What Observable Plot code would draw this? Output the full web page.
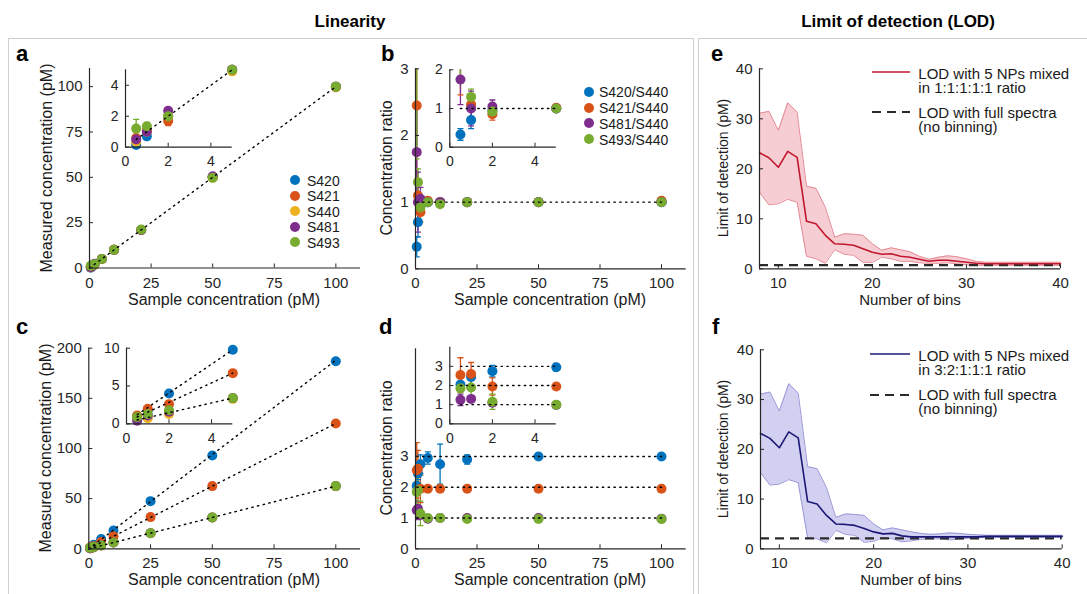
<!DOCTYPE html>
<html><head><meta charset="utf-8">
<script src="https://cdn.jsdelivr.net/npm/d3@7"></script>
<script src="https://cdn.jsdelivr.net/npm/@observablehq/plot@0.6"></script>
<style>
body{margin:0;background:#fff;overflow:hidden;font-family:"Liberation Sans",Arial,sans-serif;color:#222;}
#root{position:relative;width:1087px;height:594px;overflow:hidden;background:#fff;}
.t{position:absolute;white-space:pre;line-height:1;}
.box{position:absolute;border:1px solid #cfcfcf;}
.dot{position:absolute;width:10px;height:10px;border-radius:50%;}
</style></head><body><div id="root"></div>
<script>
// ---------------- DATA ----------------
const seriesA = ["S420", "S421", "S440", "S481", "S493"];
const colorsA = ["#0072BD", "#D95319", "#EDB120", "#7E2F8E", "#77AC30"];
const seriesB = ["S420/S440", "S421/S440", "S481/S440", "S493/S440"];
const colorsB = ["#0072BD", "#D95319", "#7E2F8E", "#77AC30"];

// panel a: measured vs sample concentration (1:1:1:1:1)
const concA = [0.5, 1, 2, 5, 10, 21, 50, 100];
const a_S420 = [0.15, 0.7, 2.0, 5.0, 10.0, 21.0, 50.0, 100.0];
const a_S421 = [0.6, 1.1, 1.7, 5.0, 10.0, 21.0, 50.0, 100.0];
const a_S440 = [0.35, 1.0, 2.0, 4.9, 10.0, 21.0, 49.7, 99.6];
const a_S481 = [0.5, 1.0, 2.35, 5.0, 10.0, 21.0, 50.6, 100.0];
const a_S493 = [1.2, 1.35, 2.0, 5.0, 10.0, 21.2, 49.8, 100.0];
const aErr_S420 = [0.1, 0.1, 0, 0, 0, 0, 0, 0];
const aErr_S421 = [0.2, 0.1, 0.3, 0, 0, 0, 0, 0];
const aErr_S440 = [0.1, 0.1, 0.1, 0, 0, 0, 0, 0];
const aErr_S481 = [0.15, 0.15, 0.15, 0, 0, 0, 0, 0];
const aErr_S493 = [0.6, 0.25, 0.15, 0, 0, 0, 0, 0];
const fitA_main = [[0, 0], [100, 100]];
const fitA_inset = [[0.5, 0.5], [5, 5]];

// panel b: concentration ratio (1:1:1:1:1)
const concB = [0.5, 1, 2, 5, 10, 21, 50, 100];
const b_S420 = [0.33, 0.7, 0.95, 1.0, 1.0, 1.0, 1.0, 1.0];
const b_S421 = [2.45, 1.1, 0.85, 1.02, 1.0, 1.0, 1.0, 1.02];
const b_S481 = [1.75, 1.0, 1.05, 1.0, 1.0, 1.0, 1.0, 1.0];
const b_S493 = [3.3, 1.3, 0.92, 1.0, 0.97, 1.0, 1.0, 1.0];
const bErr_S420 = [0.15, 0.22, 0.05, 0.03, 0.02, 0.02, 0.01, 0.01];
const bErr_S421 = [1.1, 0.15, 0.15, 0.05, 0.03, 0.02, 0.01, 0.01];
const bErr_S481 = [0.65, 0.45, 0.17, 0.05, 0.03, 0.02, 0.01, 0.01];
const bErr_S493 = [1.65, 0.2, 0.1, 0.05, 0.03, 0.02, 0.01, 0.01];
const fitB_main = [[0.5, 1], [100, 1]];
const fitB_inset = [[0.5, 1], [5, 1]];

// panel c: measured vs sample concentration (3:2:1:1:1)
const concC = [0.5, 1, 2, 5, 10, 25, 50, 100];
const c_S420 = [1.0, 1.8, 4.0, 9.8, 18.3, 47.5, 93.0, 187.0];
const c_S421 = [1.1, 2.0, 2.6, 6.7, 12.6, 31.6, 62.5, 125.0];
const c_S440 = [0.8, 0.75, 1.3, 3.3, 6.2, 15.5, 31.2, 62.3];
const c_S481 = [0.4, 1.1, 1.6, 3.4, 6.3, 15.6, 31.3, 62.5];
const c_S493 = [0.9, 1.3, 1.8, 3.4, 6.3, 15.6, 31.3, 62.5];
const fitC_main_S420 = [[0, 0], [100, 188]];
const fitC_main_S421 = [[0, 0], [100, 125]];
const fitC_main_S493 = [[0, 0], [100, 62.5]];
const fitC_inset_S420 = [[0.5, 1.2], [5, 9.8]];
const fitC_inset_S421 = [[0.5, 0.9], [5, 6.7]];
const fitC_inset_S493 = [[0.5, 0.5], [5, 3.4]];

// panel d: concentration ratio (3:2:1:1:1)
const concD = [0.5, 1, 2, 5, 10, 21, 50, 100];
const d_S420 = [2.05, 2.45, 2.75, 2.95, 2.75, 2.9, 3.0, 3.0];
const d_S421 = [2.55, 2.6, 1.95, 1.95, 1.95, 1.95, 1.95, 1.95];
const d_S481 = [1.25, 1.3, 1.1, 0.98, 1.0, 1.0, 1.0, 0.98];
const d_S493 = [1.85, 1.9, 1.15, 1.0, 1.0, 0.97, 0.97, 0.97];
const dErr_S420 = [0.1, 0.2, 0.3, 0.2, 0.65, 0.15, 0.04, 0.03];
const dErr_S421 = [0.9, 0.6, 0.45, 0.05, 0.05, 0.04, 0.03, 0.03];
const dErr_S481 = [0.3, 0.1, 0.1, 0.03, 0.03, 0.02, 0.02, 0.02];
const dErr_S493 = [0.7, 0.5, 0.4, 0.05, 0.04, 0.03, 0.02, 0.02];
const fitD_main = [[[0.5, 3], [100, 3]], [[0.5, 2], [100, 2]], [[0.5, 1], [100, 1]]];
const fitD_inset = [[[0.5, 3], [5, 3]], [[0.5, 2], [5, 2]], [[0.5, 1], [5, 1]]];

// panels e, f: limit of detection vs number of bins
const bins = [8,9,10,11,12,13,14,15,16,17,18,19,20,21,22,23,24,25,26,27,28,29,30,31,32,33,34,35,36,37,38,39,40];
const e_mean = [23.2,22.2,20.3,23.5,22.3,9.5,9.0,6.7,5.0,4.9,4.7,4.0,3.3,2.9,3.0,2.5,2.3,1.9,1.5,1.7,1.7,1.5,1.3,1.1,1.0,1.0,1.0,1.0,1.0,1.0,1.0,1.0,1.0];
const e_hi   = [31.1,31.5,27.7,33.2,31.3,16.5,16.1,12.3,6.3,7.0,6.9,6.7,5.0,3.7,4.2,3.8,3.4,2.5,1.9,2.3,2.6,2.4,2.0,1.5,1.3,1.3,1.3,1.3,1.3,1.3,1.3,1.3,1.3];
const e_lo   = [15.3,12.8,13.0,13.9,13.3,2.5,2.0,1.1,3.8,2.9,2.7,1.3,1.3,2.3,2.0,1.5,1.5,1.2,1.1,1.1,1.2,1.0,0.8,0.7,0.7,0.7,0.7,0.7,0.7,0.7,0.7,0.7,0.7];
const e_full = 0.75;
const f_mean = [23.2,22.2,20.3,23.5,22.3,9.5,9.0,6.7,5.0,4.9,4.7,4.1,3.4,3.0,3.1,2.6,2.4,2.4,2.4,2.4,2.4,2.4,2.4,2.4,2.5,2.5,2.5,2.5,2.5,2.5,2.5,2.5,2.5];
const f_hi   = [31.1,31.5,27.7,33.2,31.3,16.5,16.1,12.3,6.3,7.0,6.9,6.7,5.0,3.8,4.2,3.8,3.4,3.1,2.9,3.0,3.2,3.1,2.9,2.8,2.7,2.7,2.7,2.7,2.7,2.7,2.7,2.7,2.7];
const f_lo   = [15.3,12.8,13.0,13.9,13.3,2.2,2.0,1.2,3.7,2.9,2.7,1.3,1.5,2.3,2.0,1.4,1.6,1.9,2.0,2.0,1.8,1.9,2.1,2.2,2.3,2.3,2.3,2.3,2.3,2.3,2.3,2.3,2.3];
const f_full = 2.1;

// tick labels
const ticksConc = [0, 25, 50, 75, 100];
const ticksInsetX = [0, 2, 4];
const ticksA_y = [0, 25, 50, 75, 100];
const ticksA_insetY = [0, 2, 4];
const ticksB_y = [0, 1, 2, 3];
const ticksB_insetY = [0, 1, 2];
const ticksC_y = [0, 50, 100, 150, 200];
const ticksC_insetY = [0, 5, 10];
const ticksD_y = [0, 1, 2, 3];
const ticksD_insetY = [0, 1, 2, 3];
const ticksBins = [10, 20, 30, 40];
const ticksLOD = [0, 10, 20, 30, 40];

// ---------------- HELPERS ----------------
const W = 1087, H = 594;
const root = document.getElementById("root");
const AX = "#262626";
const FONT = "'Liberation Sans',Arial,sans-serif";
const fmt = d => String(d);
const cap = {draw(ctx, size) { const w = Math.sqrt(size / Math.PI); ctx.moveTo(-w, 0); ctx.lineTo(w, 0); }};

function rows(conc, names, values, errs) {
  const out = [];
  names.forEach((s, k) => conc.forEach((x, i) => out.push({s, x, y: values[k][i], err: errs ? errs[k][i] : 0})));
  return out;
}
function pts(arr) { return arr.map(([x, y]) => ({x, y})); }
function style(fs) {
  return `position:absolute;left:0;top:0;background:transparent;overflow:visible;max-width:none;font-family:${FONT};font-size:${fs}px;color:${AX};`;
}
function axes(xTicks, yTicks, xDomain, yDomain) {
  return [
    Plot.ruleX([xDomain[0]], {stroke: AX, strokeWidth: 1.2}),
    Plot.ruleY([yDomain[0]], {stroke: AX, strokeWidth: 1.2}),
    Plot.axisX(xTicks, {tickSize: -4, tickPadding: 13, tickFormat: fmt, label: null, stroke: AX}),
    Plot.axisY(yTicks, {tickSize: -4, tickPadding: 11, tickFormat: fmt, label: null, stroke: AX})
  ];
}
function scatter({data, fits, names, colors, xDomain, yDomain, xTicks, yTicks, box, fs, r = 5}) {
  const [xl, xr, yt, yb] = box;
  const vis = data.filter(d => d.x <= xDomain[1]);
  const errs = vis.filter(d => d.err > 0);
  const shown = vis.filter(d => d.y >= yDomain[0] && d.y <= yDomain[1]);
  const svg = Plot.plot({
    width: W, height: H,
    marginLeft: xl, marginRight: W - xr, marginTop: yt, marginBottom: H - yb,
    x: {domain: xDomain}, y: {domain: yDomain},
    color: {domain: names, range: colors},
    style: style(fs),
    marks: [
      Plot.ruleX(errs, {x: "x", y1: d => d.y - d.err, y2: d => d.y + d.err, stroke: "s", strokeWidth: 1.3, clip: true}),
      Plot.dot(errs, {x: "x", y: d => d.y - d.err, symbol: cap, r: 3, fill: "none", stroke: "s", strokeWidth: 1.3, clip: true}),
      Plot.dot(errs, {x: "x", y: d => d.y + d.err, symbol: cap, r: 3, fill: "none", stroke: "s", strokeWidth: 1.3, clip: true}),
      Plot.dot(shown, {x: "x", y: "y", fill: "s", r}),
      ...fits.map(f => Plot.line(pts(f), {x: "x", y: "y", stroke: "#000", strokeWidth: 1.4, strokeDasharray: "1.4,4.4"})),
      ...axes(xTicks, yTicks, xDomain, yDomain)
    ]
  });
  root.appendChild(svg);
}
function lod({mean, lo, hi, full, line, fill, edge, box}) {
  const [xl, xr, yt, yb] = box;
  const data = bins.map((b, i) => ({bin: b, mean: mean[i], lo: lo[i], hi: hi[i]}));
  const svg = Plot.plot({
    width: W, height: H,
    marginLeft: xl, marginRight: W - xr, marginTop: yt, marginBottom: H - yb,
    x: {domain: [8, 40]}, y: {domain: [0, 40]},
    style: style(15),
    marks: [
      Plot.areaY(data, {x: "bin", y1: "lo", y2: "hi", fill, fillOpacity: 1}),
      Plot.line(data, {x: "bin", y: "hi", stroke: edge, strokeWidth: 1}),
      Plot.line(data, {x: "bin", y: "lo", stroke: edge, strokeWidth: 1}),
      Plot.ruleY([full], {stroke: "#2a2a2a", strokeWidth: 2.2, strokeDasharray: "9,6"}),
      Plot.line(data, {x: "bin", y: "mean", stroke: line, strokeWidth: 1.6}),
      ...axes(ticksBins, ticksLOD, [8, 40], [0, 40])
    ]
  });
  root.appendChild(svg);
}
function text(str, x, baseline, fs, opts = {}) {
  const d = document.createElement("div");
  d.className = "t";
  d.textContent = str;
  d.style.fontSize = fs + "px";
  d.style.left = x + "px";
  const lh = opts.lineHeight || fs;
  d.style.lineHeight = lh + "px";
  d.style.top = (baseline - 0.847 * fs - (lh - fs) / 2) + "px";
  if (opts.bold) d.style.fontWeight = "bold";
  if (opts.center) d.style.transform = "translateX(-50%)";
  d.style.color = opts.color || "#1a1a1a";
  root.appendChild(d);
}
function vtext(str, cx, cy, fs) {
  const d = document.createElement("div");
  d.className = "t";
  d.textContent = str;
  d.style.fontSize = fs + "px";
  d.style.left = cx + "px";
  d.style.top = cy + "px";
  d.style.color = "#1a1a1a";
  d.style.transform = "translate(-50%,-50%) rotate(-90deg)";
  root.appendChild(d);
}
function box(l, t, w, h) {
  const d = document.createElement("div");
  d.className = "box";
  Object.assign(d.style, {left: l + "px", top: t + "px", width: w + "px", height: h + "px"});
  root.appendChild(d);
}
function swatch(color, cx, cy) {
  const d = document.createElement("div");
  d.className = "dot";
  Object.assign(d.style, {left: (cx - 5) + "px", top: (cy - 5) + "px", background: color});
  root.appendChild(d);
}
function lineSample(x1, x2, y, color, dashed) {
  const ns = "http://www.w3.org/2000/svg";
  const s = document.createElementNS(ns, "svg");
  s.setAttribute("width", x2 - x1); s.setAttribute("height", 4);
  s.style.cssText = `position:absolute;left:${x1}px;top:${y - 2}px;`;
  const l = document.createElementNS(ns, "line");
  l.setAttribute("x1", 0); l.setAttribute("x2", x2 - x1); l.setAttribute("y1", 2); l.setAttribute("y2", 2);
  l.setAttribute("stroke", color); l.setAttribute("stroke-width", dashed ? 2.2 : 1.6);
  if (dashed) l.setAttribute("stroke-dasharray", "9,6");
  s.appendChild(l);
  root.appendChild(s);
}

// ---------------- FRAMES & HEADERS ----------------
box(8, 38, 684, 600);
box(698, 38, 420, 600);
text("Linearity", 350, 27, 17, {bold: true, center: true, color: "#000"});
text("Limit of detection (LOD)", 898, 27, 17, {bold: true, center: true, color: "#000"});

// ---------------- PANEL a ----------------
const dataA = rows(concA, seriesA, [a_S420, a_S421, a_S440, a_S481, a_S493], [aErr_S420, aErr_S421, aErr_S440, aErr_S481, aErr_S493]);
scatter({data: dataA, fits: [fitA_main], names: seriesA, colors: colorsA, xDomain: [0, 110], yDomain: [0, 110],
  xTicks: ticksConc, yTicks: ticksA_y, box: [89, 360, 68, 267.5], fs: 15});
scatter({data: dataA, fits: [fitA_inset], names: seriesA, colors: colorsA, xDomain: [0, 5], yDomain: [0, 5],
  xTicks: ticksInsetX, yTicks: ticksA_insetY, box: [125, 231.7, 69.3, 146.7], fs: 14});
seriesA.forEach((s, i) => { const cy = 180 + i * 15.6; swatch(colorsA[i], 295, cy); text(s, 307, cy + 5.5, 14); });

// ---------------- PANEL b ----------------
const dataB = rows(concB, seriesB, [b_S420, b_S421, b_S481, b_S493], [bErr_S420, bErr_S421, bErr_S481, bErr_S493]);
scatter({data: dataB, fits: [fitB_main], names: seriesB, colors: colorsB, xDomain: [0, 110], yDomain: [0, 3],
  xTicks: ticksConc, yTicks: ticksB_y, box: [415, 685.6, 68.3, 268.3], fs: 15});
scatter({data: dataB, fits: [fitB_inset], names: seriesB, colors: colorsB, xDomain: [0, 5], yDomain: [0, 2],
  xTicks: ticksInsetX, yTicks: ticksB_insetY, box: [449.3, 555.8, 69.3, 146.7], fs: 14});
seriesB.forEach((s, i) => { const cy = 91.7 + i * 15.8; swatch(colorsB[i], 589, cy); text(s, 599, cy + 5.5, 14); });

// ---------------- PANEL c ----------------
const dataC = rows(concC, seriesA, [c_S420, c_S421, c_S440, c_S481, c_S493]);
scatter({data: dataC, fits: [fitC_main_S420, fitC_main_S421, fitC_main_S493], names: seriesA, colors: colorsA, xDomain: [0, 110], yDomain: [0, 200],
  xTicks: ticksConc, yTicks: ticksC_y, box: [88.3, 360, 347.7, 548.3], fs: 15});
scatter({data: dataC, fits: [fitC_inset_S420, fitC_inset_S421, fitC_inset_S493], names: seriesA, colors: colorsA, xDomain: [0, 5], yDomain: [0, 10],
  xTicks: ticksInsetX, yTicks: ticksC_insetY, box: [126, 232.3, 347.7, 423.3], fs: 14});

// ---------------- PANEL d ----------------
const dataD = rows(concD, seriesB, [d_S420, d_S421, d_S481, d_S493], [dErr_S420, dErr_S421, dErr_S481, dErr_S493]);
scatter({data: dataD, fits: fitD_main, names: seriesB, colors: colorsB, xDomain: [0, 110], yDomain: [0, 6.5],
  xTicks: ticksConc, yTicks: ticksD_y, box: [415, 685.6, 348.3, 548.3], fs: 15});
scatter({data: dataD, fits: fitD_inset, names: seriesB, colors: colorsB, xDomain: [0, 5], yDomain: [0, 4],
  xTicks: ticksInsetX, yTicks: ticksD_insetY, box: [449.3, 555.8, 346.7, 423.3], fs: 14});

// ---------------- PANELS e, f ----------------
lod({mean: e_mean, lo: e_lo, hi: e_hi, full: e_full, line: "#c0172e", fill: "#f6cdd2", edge: "#e58a95", box: [759, 1060, 68.3, 268.3]});
lod({mean: f_mean, lo: f_lo, hi: f_hi, full: f_full, line: "#1c1877", fill: "#d2d0f0", edge: "#9a97d8", box: [760, 1061.7, 349.3, 548.3]});

lineSample(871.7, 910, 72.3, "#c0172e", false);
text("LOD with 5 NPs mixed\nin 1:1:1:1:1 ratio", 918.3, 79.5, 15, {lineHeight: 13.8});
lineSample(871.7, 910, 111.7, "#2a2a2a", true);
text("LOD with full spectra\n(no binning)", 918.3, 118.3, 15, {lineHeight: 14});

lineSample(870, 910, 354.3, "#1c1877", false);
text("LOD with 5 NPs mixed\nin 3:2:1:1:1 ratio", 918.3, 361.5, 15, {lineHeight: 13.6});
lineSample(870, 910, 395, "#2a2a2a", true);
text("LOD with full spectra\n(no binning)", 918.3, 400.5, 15, {lineHeight: 14});

// ---------------- AXIS TITLES & PANEL LETTERS ----------------
vtext("Measured concentration (pM)", 46.5, 168, 16);
vtext("Measured concentration (pM)", 46, 448, 16);
vtext("Concentration ratio", 387, 168, 16);
vtext("Concentration ratio", 387, 448, 16);
vtext("Limit of detection (pM)", 723, 168, 14);
vtext("Limit of detection (pM)", 723, 449, 14);
text("Sample concentration (pM)", 224, 305.5, 16, {center: true});
text("Sample concentration (pM)", 550, 305.5, 16, {center: true});
text("Sample concentration (pM)", 224, 586, 16, {center: true});
text("Sample concentration (pM)", 550, 586, 16, {center: true});
text("Number of bins", 910, 305, 15, {center: true});
text("Number of bins", 911, 585, 15, {center: true});

text("a", 16, 62, 22, {bold: true, color: "#000"});
text("b", 381, 62, 22, {bold: true, color: "#000"});
text("c", 16, 335, 22, {bold: true, color: "#000"});
text("d", 379, 335, 22, {bold: true, color: "#000"});
text("e", 711, 62, 22, {bold: true, color: "#000"});
text("f", 712, 335, 22, {bold: true, color: "#000"});
</script></body></html>
